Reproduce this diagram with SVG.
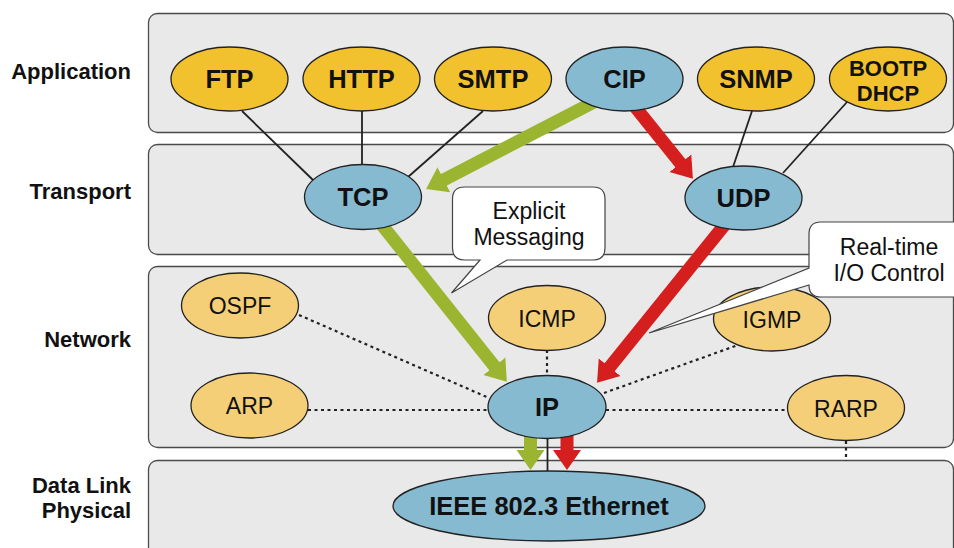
<svg xmlns="http://www.w3.org/2000/svg" width="954" height="548" viewBox="0 0 954 548">
<defs>
<style>
.panel{fill:#e9e9e9;stroke:#4a4a4a;stroke-width:1.3}
.layer{font-family:"Liberation Sans",Arial,sans-serif;font-weight:bold;font-size:22px;fill:#111;text-anchor:end}
.app{fill:#f2c12e;stroke:#222;stroke-width:1.3}
.blue{fill:#86bad1;stroke:#222;stroke-width:1.3}
.net{fill:#f4cf78;stroke:#222;stroke-width:1.3}
.bt{font-family:"Liberation Sans",Arial,sans-serif;font-weight:bold;font-size:25.5px;fill:#111;text-anchor:middle}
.bt2{font-family:"Liberation Sans",Arial,sans-serif;font-weight:bold;font-size:22px;fill:#111;text-anchor:middle}
.rt{font-family:"Liberation Sans",Arial,sans-serif;font-size:23px;fill:#111;text-anchor:middle}
.solid{stroke:#222;stroke-width:1.8;fill:none}
.dot{stroke:#222;stroke-width:2.2;stroke-dasharray:3 3.5;fill:none}
.garr{stroke:#9bb530;stroke-width:13;fill:none;marker-end:url(#gh)}
.rarr{stroke:#d51f1f;stroke-width:13;fill:none;marker-end:url(#rh)}
.callout{fill:#fff;stroke:#444;stroke-width:1.2}
</style>
<marker id="gh" markerUnits="userSpaceOnUse" markerWidth="21" markerHeight="30" viewBox="0 -15 21 30" refX="1" refY="0" orient="auto"><path d="M0,-14 L20,0 L0,14 z" fill="#9bb530"/></marker>
<marker id="rh" markerUnits="userSpaceOnUse" markerWidth="21" markerHeight="30" viewBox="0 -15 21 30" refX="1" refY="0" orient="auto"><path d="M0,-14 L20,0 L0,14 z" fill="#d51f1f"/></marker>
</defs>

<g id="layers">
<rect class="panel" x="148.5" y="13.5" width="805" height="119" rx="9"/>
<rect class="panel" x="148.5" y="144.5" width="805" height="110" rx="9"/>
<rect class="panel" x="148.5" y="266.5" width="805" height="181" rx="9"/>
<rect class="panel" x="148.5" y="460.5" width="805" height="110" rx="9"/>
<text class="layer" x="131" y="79">Application</text>
<text class="layer" x="131" y="199">Transport</text>
<text class="layer" x="131" y="347">Network</text>
<text class="layer" x="131" y="493">Data Link</text>
<text class="layer" x="131" y="518">Physical</text>
</g>

<g id="connectors">
<line class="solid" x1="242" y1="111" x2="313" y2="180"/>
<line class="solid" x1="362" y1="111" x2="362" y2="165"/>
<line class="solid" x1="483" y1="111" x2="408" y2="177"/>
<line class="solid" x1="752" y1="111" x2="733" y2="167"/>
<line class="solid" x1="847" y1="102" x2="783" y2="173"/>
<line class="solid" x1="547.5" y1="438" x2="547.5" y2="472"/>
<line class="dot" x1="299" y1="315" x2="489" y2="398"/>
<line class="dot" x1="308" y1="410" x2="489" y2="410"/>
<line class="dot" x1="547" y1="350" x2="547" y2="376"/>
<line class="dot" x1="604" y1="393" x2="738" y2="345"/>
<line class="dot" x1="606" y1="410" x2="787" y2="410"/>
<line class="dot" x1="846" y1="441" x2="846" y2="461"/>
<line class="garr" x1="595" y1="101.5" x2="443" y2="180.2"/>
<line class="rarr" x1="632" y1="103" x2="681" y2="164"/>
<line class="garr" x1="378" y1="220" x2="495" y2="367"/>
<line class="rarr" x1="725.8" y1="223.3" x2="609" y2="368"/>
<line class="garr" x1="530.5" y1="432" x2="530.5" y2="451"/>
<line class="rarr" x1="567" y1="432" x2="567" y2="451"/>
</g>

<g id="ftp"><ellipse class="app" cx="229.5" cy="79" rx="58.5" ry="32"/><text class="bt" x="229.5" y="88">FTP</text></g>
<g id="http"><ellipse class="app" cx="361.5" cy="79" rx="58.5" ry="32"/><text class="bt" x="361.5" y="88">HTTP</text></g>
<g id="smtp"><ellipse class="app" cx="493" cy="79" rx="58.5" ry="32"/><text class="bt" x="493" y="88">SMTP</text></g>
<g id="cip"><ellipse class="blue" cx="624.5" cy="79" rx="58.5" ry="32"/><text class="bt" x="624.5" y="88">CIP</text></g>
<g id="snmp"><ellipse class="app" cx="756" cy="79" rx="58.5" ry="32"/><text class="bt" x="756" y="88">SNMP</text></g>
<g id="bootp"><ellipse class="app" cx="888" cy="79" rx="58.5" ry="32"/><text class="bt2" x="888" y="76">BOOTP</text><text class="bt2" x="888" y="100.5">DHCP</text></g>
<g id="tcp"><ellipse class="blue" cx="363" cy="197" rx="58.5" ry="32.5"/><text class="bt" x="363" y="206">TCP</text></g>
<g id="udp"><ellipse class="blue" cx="743.5" cy="198" rx="58.5" ry="32"/><text class="bt" x="743.5" y="207">UDP</text></g>
<g id="ospf"><ellipse class="net" cx="240" cy="305.5" rx="58.5" ry="32.5"/><text class="rt" x="240" y="314">OSPF</text></g>
<g id="icmp"><ellipse class="net" cx="547" cy="318" rx="58.5" ry="32.5"/><text class="rt" x="547" y="326.5">ICMP</text></g>
<g id="igmp"><ellipse class="net" cx="772" cy="319" rx="58.5" ry="32"/><text class="rt" x="772" y="327.5">IGMP</text></g>
<g id="arp"><ellipse class="net" cx="249.5" cy="405.5" rx="58.5" ry="32.5"/><text class="rt" x="249.5" y="414">ARP</text></g>
<g id="ip"><ellipse class="blue" cx="547" cy="407" rx="59" ry="31.5"/><text class="bt" x="547" y="416">IP</text></g>
<g id="rarp"><ellipse class="net" cx="846" cy="408" rx="58.5" ry="32.5"/><text class="rt" x="846" y="416.5">RARP</text></g>
<g id="ethernet"><ellipse class="blue" cx="549" cy="506" rx="156" ry="35"/><text class="bt" x="549" y="515">IEEE 802.3 Ethernet</text></g>

<g id="callout-explicit">
<path class="callout" d="M464.5,187 H593 Q605,187 605,199 V248 Q605,260 593,260 H507 L451.5,293 L480,260 H464.5 Q452.5,260 452.5,248 V199 Q452.5,187 464.5,187 Z"/>
<text class="rt" x="529" y="219">Explicit</text>
<text class="rt" x="529" y="245">Messaging</text>
</g>
<g id="callout-realtime">
<path class="callout" d="M821,222 H975 V297 H821 Q809,297 809,285 L649,333 L809,268 V234 Q809,222 821,222 Z"/>
<text class="rt" x="889" y="255">Real-time</text>
<text class="rt" x="889" y="281">I/O Control</text>
</g>
</svg>
